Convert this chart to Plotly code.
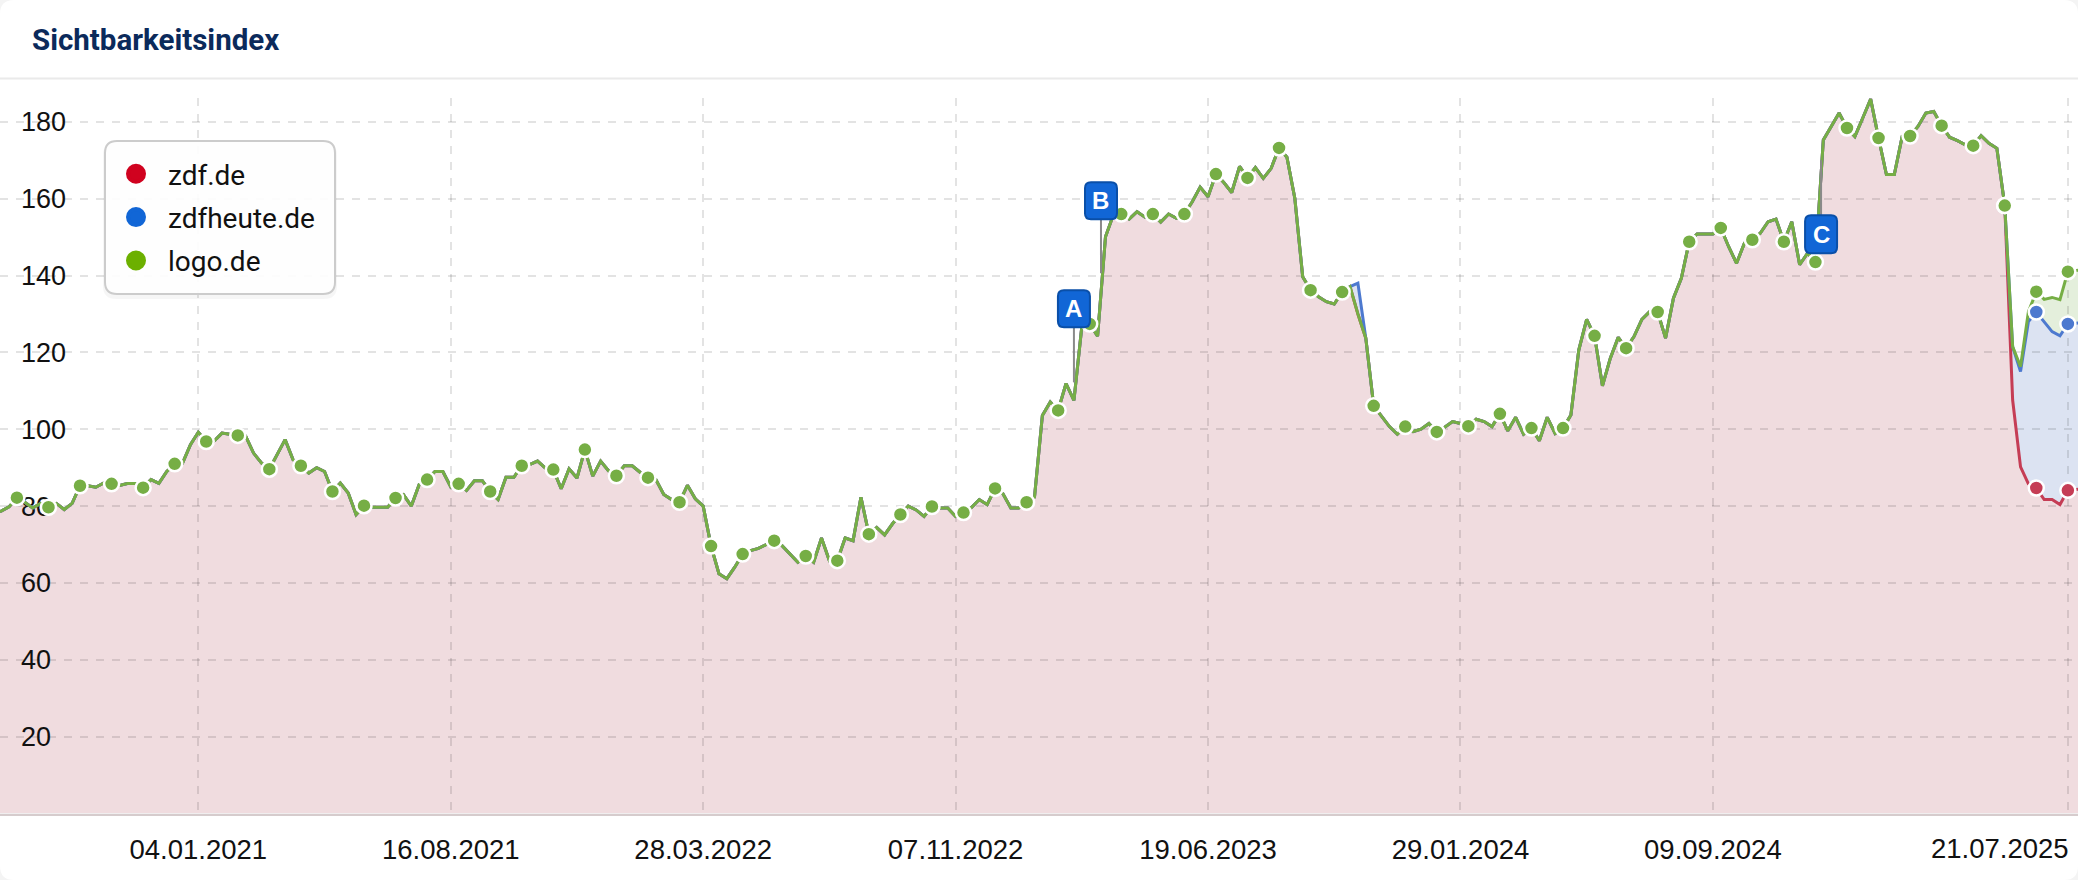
import datetime as dt
import plotly.graph_objects as go

# weekly values, oldest first (the last shared value is the week the domains diverge)
shared_history = [
 78.0, 78.7, 79.8, 82.2, 81.0, 79.5, 80.7, 79.7, 80.7, 79.1, 80.7, 85.3, 85.3, 84.9, 86.0, 85.8, 85.4, 85.9, 85.9, 84.8,
 86.9, 85.9, 89.0, 91.0, 91.2, 96.0, 99.2, 96.8, 96.9, 99.0, 98.7, 98.4, 98.2, 93.8, 91.2, 89.6, 93.4, 97.3, 92.1, 90.5,
 88.6, 90.0, 89.0, 83.8, 86.0, 83.4, 77.8, 80.1, 79.7, 79.7, 79.7, 82.1, 83.0, 80.0, 85.6, 86.9, 89.0, 89.0, 85.0, 85.8,
 84.1, 86.6, 86.6, 83.8, 81.7, 87.5, 87.5, 90.5, 90.8, 91.7, 89.9, 89.5, 84.5, 89.7, 87.3, 94.7, 87.8, 91.7, 89.2, 87.9,
 90.5, 90.5, 88.8, 87.4, 86.9, 83.0, 81.7, 81.0, 85.4, 81.9, 80.0, 69.6, 62.4, 61.1, 64.1, 67.5, 68.4, 69.0, 70.0, 71.0,
 69.7, 67.6, 65.4, 67.0, 65.4, 71.7, 65.8, 65.8, 71.7, 71.0, 82.3, 72.7, 74.4, 72.5, 75.4, 77.8, 80.0, 79.0, 77.3, 79.9,
 79.5, 79.5, 77.3, 78.3, 79.6, 81.7, 80.4, 84.6, 83.2, 79.5, 79.5, 81.0, 82.3, 103.6, 107.1, 104.9, 111.9, 107.5, 126.7, 127.4,
 124.2, 150.1, 155.8, 156.0, 154.7, 156.6, 155.2, 156.0, 153.9, 156.0, 154.9, 156.0, 159.2, 163.0, 160.5, 166.4, 164.2, 161.6, 168.4, 165.4,
 168.1, 165.3, 167.9, 173.2, 170.8, 160.1, 139.7, 136.2, 134.5, 133.2, 132.6, 135.7, 137.1, 130.0, 123.7, 106.1, 103.3, 100.7, 98.7, 100.7,
 99.4, 100.0, 101.5, 99.3, 100.5, 102.0, 101.5, 100.8, 102.6, 102.0, 100.7, 104.0, 99.6, 103.1, 98.7, 100.3, 97.0, 103.1, 98.9, 100.3,
 103.7, 120.6, 128.6, 124.3, 111.3, 118.5, 123.9, 121.1, 124.1, 128.6, 130.6, 130.5, 123.7, 134.1, 139.3, 148.8, 150.8, 150.8, 150.8, 152.4,
 147.5, 143.2, 148.4, 149.3, 151.0, 154.0, 154.7, 148.8, 154.0, 142.8, 145.8, 143.5, 175.3, 178.8, 182.3, 178.4, 176.2, 181.0, 185.9, 175.8,
 166.3, 166.3, 176.2, 176.3, 178.8, 182.3, 182.7, 179.0, 176.0, 175.1, 174.0, 173.8, 176.4, 174.4, 173.1, 158.2,
]
zdf_tail = [107.6, 90.2, 85.8, 84.7, 81.7, 81.7, 80.4, 84.1, 84.3, 84.5]
zdfheute_tail = [121.5, 115.0, 128.0, 130.5, 128.0, 125.4, 124.3, 127.4, 127.6, 127.8]
logo_tail = [121.5, 116.3, 130.6, 135.8, 133.8, 134.3, 133.7, 141.0, 141.3, 141.6]
# zdfheute.de runs a little above the others in one week
zdfheute_bump_week = "2023-10-30"
zdfheute_bump_value = 138.0

first_week = dt.date(2020, 7, 6)
week_tick_labels = ["04.01.2021", "16.08.2021", "28.03.2022", "07.11.2022",
                    "19.06.2023", "29.01.2024", "09.09.2024", "21.07.2025"]
y_tick_labels = [20, 40, 60, 80, 100, 120, 140, 160, 180]
series_names = ["zdf.de", "zdfheute.de", "logo.de"]
legend_colors = ["#d0021f", "#1166d6", "#6cb000"]
line_colors = ["#c53d55", "#4d79cf", "#76ae45"]
fill_colors = ["#f0dcdf", "#dce3f2", "#e4efdc"]
pins = [("A", "2023-02-20", 112.2, "down"), ("B", "2023-03-16", 140.6, "down"), ("C", "2024-12-14", 170.0, "up")]

zdf = shared_history + zdf_tail
zdfheute = shared_history + zdfheute_tail
logo = shared_history + logo_tail
weeks = [(first_week + dt.timedelta(days=7 * i)).isoformat() for i in range(len(zdf))]
zdfheute[weeks.index(zdfheute_bump_week)] = zdfheute_bump_value

tick_dates = [dt.datetime.strptime(t, "%d.%m.%Y").date().isoformat() for t in week_tick_labels]
x_range = ["2020-07-12", "2025-07-30"]
y_range = [0, 186.2]
WIDTH, HEIGHT = 2078, 880
dom_y = [(HEIGHT - 813.5) / HEIGHT, (HEIGHT - 98) / HEIGHT]
FONT = "Liberation Sans, Arial, sans-serif"

fig = go.Figure()

# layer 1: flat area fills
for values, color in zip([logo, zdfheute, zdf], [fill_colors[2], fill_colors[1], fill_colors[0]]):
    fig.add_trace(go.Scatter(x=weeks, y=values, mode="none", fill="tozeroy", fillcolor=color,
                             showlegend=False, hoverinfo="skip", xaxis="x", yaxis="y"))

# layer 2: grid and tick labels only
fig.add_trace(go.Scatter(x=weeks[:1], y=[None], mode="markers", showlegend=False,
                         hoverinfo="skip", xaxis="x2", yaxis="y2"))

# layer 3: lines and markers
for name, values, lc in zip(series_names, [zdf, zdfheute, logo], line_colors):
    fig.add_trace(go.Scatter(x=weeks, y=values, mode="lines", line=dict(color=lc, width=3),
                             showlegend=False, name=name, xaxis="x3", yaxis="y3"))
for name, values, lc in zip(series_names, [zdf, zdfheute, logo], line_colors):
    tail_start = 255 if name != "logo.de" else 0
    idx = [k for k in range(3, len(values), 4) if k >= tail_start]
    fig.add_trace(go.Scatter(x=[weeks[k] for k in idx], y=[values[k] for k in idx], mode="markers",
                             marker=dict(size=15, color=lc, line=dict(color="white", width=2.5)),
                             showlegend=False, name=name, xaxis="x3", yaxis="y3"))

# legend entries
for name, color in zip(series_names, legend_colors):
    fig.add_trace(go.Scatter(x=weeks[:1], y=[None], mode="markers", name=name, legendgroup=name,
                             marker=dict(size=16, color=color, line=dict(color=color, width=4)),
                             xaxis="x3", yaxis="y3"))


def rounded(x0, y0, x1, y1, r):
    return (f"M{x0+r},{y0} L{x1-r},{y0} Q{x1},{y0} {x1},{y0+r} L{x1},{y1-r} Q{x1},{y1} {x1-r},{y1} "
            f"L{x0+r},{y1} Q{x0},{y1} {x0},{y1-r} L{x0},{y0+r} Q{x0},{y0} {x0+r},{y0} Z")


def paper_rounded(px0, py0, px1, py1, r):
    # pixel box in page coordinates, expressed as paper fractions
    def X(v): return v / WIDTH
    def Y(v): return 1 - v / HEIGHT
    rx, ry = r / WIDTH, r / HEIGHT
    x0, x1, y0, y1 = X(px0), X(px1), Y(py0), Y(py1)
    return (f"M{x0+rx},{y0} L{x1-rx},{y0} Q{x1},{y0} {x1},{y0-ry} L{x1},{y1+ry} Q{x1},{y1} {x1-rx},{y1} "
            f"L{x0+rx},{y1} Q{x0},{y1} {x0},{y1+ry} L{x0},{y0-ry} Q{x0},{y0} {x0+rx},{y0} Z")


shapes = [
    dict(type="path", xref="paper", yref="paper", path=paper_rounded(0, 0, WIDTH, HEIGHT, 14),
         fillcolor="white", line=dict(width=0), layer="below"),
    dict(type="line", xref="paper", yref="paper", x0=0, x1=1, y0=1 - 78.5 / HEIGHT, y1=1 - 78.5 / HEIGHT,
         line=dict(color="#eaeaea", width=2), layer="above"),
    # legend box with soft edge
    dict(type="path", xref="paper", yref="paper", path=paper_rounded(103, 142, 337, 299, 13),
         fillcolor="rgba(0,0,0,0.035)", line=dict(width=0), layer="above"),
    dict(type="path", xref="paper", yref="paper", path=paper_rounded(105, 141, 335, 294, 12),
         fillcolor="rgba(255,255,255,0.9)", line=dict(color="#cccccc", width=2), layer="above"),
]
annotations = [
    dict(text="<b>Sichtbarkeitsindex</b>", xref="paper", yref="paper", x=30 / WIDTH, y=1 - 40 / HEIGHT,
         xanchor="left", yanchor="middle", showarrow=False,
         font=dict(family="Roboto, sans-serif", size=29.5, color="#0b2a5b")),
    # the last date label sits left of its gridline so that it stays inside the card
    dict(text=week_tick_labels[-1], xref="x2", yref="paper", x=tick_dates[-1], y=1 - 848 / HEIGHT,
         xanchor="right", yanchor="middle", showarrow=False, xshift=3,
         font=dict(family=FONT, size=27.5, color="#111111")),
]
for label, date, value, direction in pins:
    if direction == "down":
        box_lo = 54 if label == "B" else 55
        box_hi = box_lo + 37
        stem_end = box_lo
    else:
        box_hi = -55
        box_lo = box_hi - 38
        stem_end = box_hi
    shapes.append(dict(type="line", xref="x3", yref="y3", xsizemode="pixel", ysizemode="pixel",
                       xanchor=date, yanchor=value, x0=0, x1=0, y0=0, y1=stem_end,
                       line=dict(color="#8a8a8a", width=2), layer="above"))
    shapes.append(dict(type="path", xref="x3", yref="y3", xsizemode="pixel", ysizemode="pixel",
                       xanchor=date, yanchor=value, path=rounded(-16, box_lo, 16, box_hi, 6),
                       fillcolor="#1166d6", line=dict(color="#0a4fa8", width=2), layer="above"))
    annotations.append(dict(text=f"<b>{label}</b>", xref="x3", yref="y3", x=date, y=value,
                            xanchor="center", yanchor="middle", yshift=(box_lo + box_hi) / 2, showarrow=False,
                            font=dict(family=FONT, size=24, color="white")))

fig.update_layout(
    width=WIDTH, height=HEIGHT, margin=dict(l=0, r=0, t=0, b=0, autoexpand=False),
    paper_bgcolor="#f4f4f4", plot_bgcolor="rgba(0,0,0,0)",
    font=dict(family=FONT, color="#111111"),
    showlegend=True,
    legend=dict(x=104 / WIDTH, y=1 - 149 / HEIGHT, xanchor="left", yanchor="top", bgcolor="rgba(0,0,0,0)",
                font=dict(family="Roboto, sans-serif", size=28, color="#111111"), tracegroupgap=4,
                itemsizing="trace", itemwidth=54),
    shapes=shapes, annotations=annotations,
    xaxis=dict(visible=False, type="date", range=x_range, domain=[0, 1], anchor="y", fixedrange=True),
    yaxis=dict(visible=False, range=y_range, domain=dom_y, anchor="x", fixedrange=True),
    xaxis2=dict(type="date", range=x_range, domain=[0, 1], anchor="y2", tickmode="array", tickvals=tick_dates,
                ticktext=week_tick_labels[:-1] + [""], tickangle=0, showgrid=True, griddash="8px,8px", gridwidth=2,
                gridcolor="rgba(0,0,0,0.11)", showline=True, linecolor="#d6cccd", linewidth=2,
                ticks="outside", ticklen=10, tickcolor="rgba(0,0,0,0)", ticklabeloverflow="allow",
                tickfont=dict(size=27.5, color="#111111"), zeroline=False, fixedrange=True, automargin=False),
    yaxis2=dict(range=y_range, domain=dom_y, anchor="x2", tickmode="array", tickvals=y_tick_labels,
                ticktext=[str(v) for v in y_tick_labels], showgrid=True, griddash="8px,8px", gridwidth=2,
                gridcolor="rgba(0,0,0,0.11)", zeroline=False, showline=False, ticks="",
                ticklabelposition="inside", ticklabelstandoff=18, tickfont=dict(size=27, color="#111111"),
                fixedrange=True, automargin=False),
    xaxis3=dict(visible=False, type="date", range=x_range, domain=[0, 1], anchor="y3", fixedrange=True),
    yaxis3=dict(visible=False, range=y_range, domain=dom_y, anchor="x3", fixedrange=True),
)

fig.write_html("out.html", config=dict(displayModeBar=False),
               post_script="document.body.style.margin='0';document.body.style.overflow='hidden';")
